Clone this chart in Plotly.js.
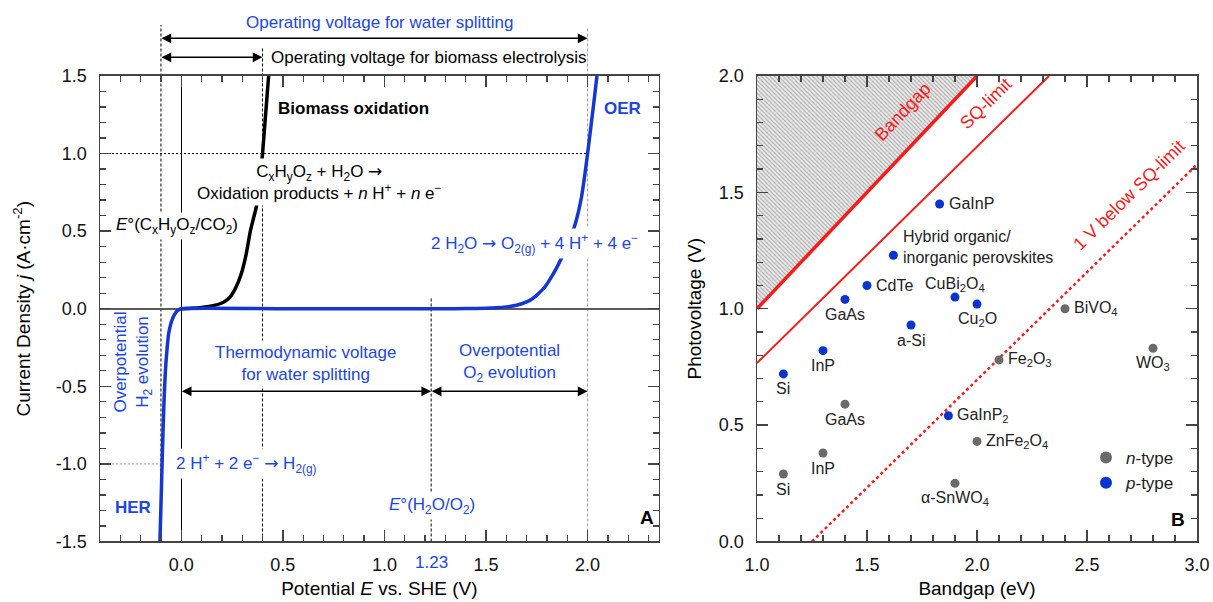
<!DOCTYPE html>
<html><head><meta charset="utf-8">
<script src="https://cdn.plot.ly/plotly-3.0.1.min.js"></script>
<style>html,body{margin:0;padding:0;background:#fff}#chart{width:1213px;height:602px}</style>
</head><body><div id="chart"></div>
<script>
// ---------- Panel A data (potential E vs SHE in V, current density j in A/cm2) ----------
const biomassE = [0.0, 0.05, 0.10, 0.15, 0.20, 0.22, 0.24, 0.26, 0.28, 0.30, 0.32, 0.34, 0.355, 0.37, 0.385, 0.40, 0.415, 0.43];
const biomassJ = [0.0, 0.003, 0.008, 0.018, 0.037, 0.052, 0.075, 0.115, 0.17, 0.245, 0.355, 0.50, 0.58, 0.66, 0.81, 1.0, 1.25, 1.5];
const waterE = [-0.105, -0.10, -0.095, -0.09, -0.085, -0.078, -0.07, -0.062, -0.05, -0.04, -0.03, -0.02, -0.01, 0.0, 0.5, 1.0, 1.3, 1.40, 1.50, 1.55, 1.60, 1.65, 1.70, 1.73, 1.76, 1.79, 1.82, 1.85, 1.88, 1.91, 1.94, 1.97, 1.985, 2.0, 2.015, 2.03, 2.046];
const waterJ = [-1.5, -1.27, -1.03, -0.8, -0.6, -0.4, -0.26, -0.16, -0.09, -0.055, -0.03, -0.015, -0.005, 0.0, 0.0, 0.0, 0.0, 0.001, 0.003, 0.006, 0.012, 0.022, 0.044, 0.066, 0.10, 0.14, 0.20, 0.27, 0.35, 0.44, 0.55, 0.72, 0.85, 1.0, 1.16, 1.32, 1.5];
const E_HER = -0.1;      // onset incl. H2 overpotential
const E_BIOMASS = 0.4;   // biomass operating potential
const E_O2 = 1.23;       // E°(H2O/O2)
const E_OER = 2.0;       // onset incl. O2 overpotential
const aXTicks = [0, 0.5, 1.0, 1.5, 2.0];
const aXTickText = ['0.0', '0.5', '1.0', '1.5', '2.0'];
const aYTicks = [-1.5, -1.0, -0.5, 0, 0.5, 1.0, 1.5];
const aYTickText = ['-1.5', '-1.0', '-0.5', '0.0', '0.5', '1.0', '1.5'];

// ---------- Panel B data (bandgap eV, photovoltage V) ----------
const pNames = ['GaInP', 'Hybrid organic/<br>inorganic perovskites', 'CdTe', 'GaAs', 'CuBi<sub>2</sub>O<sub>4</sub>', 'Cu<sub>2</sub>O', 'a-Si', 'InP', 'Si', 'GaInP<sub>2</sub>'];
const pGap   = [1.83, 1.62, 1.50, 1.40, 1.90, 2.00, 1.70, 1.30, 1.12, 1.87];
const pVolt  = [1.45, 1.23, 1.10, 1.04, 1.05, 1.02, 0.93, 0.82, 0.72, 0.54];
const nNames = ['BiVO<sub>4</sub>', 'WO<sub>3</sub>', 'Fe<sub>2</sub>O<sub>3</sub>', 'GaAs', 'ZnFe<sub>2</sub>O<sub>4</sub>', 'InP', 'Si', 'α-SnWO<sub>4</sub>'];
const nGap   = [2.40, 2.80, 2.10, 1.40, 2.00, 1.30, 1.12, 1.90];
const nVolt  = [1.00, 0.83, 0.78, 0.59, 0.43, 0.38, 0.29, 0.25];
const bandgapX = [1.0, 2.0];
const bandgapY = [1.0, 2.0];
const sqX = [1.0, 2.327];
const sqY = [0.767, 2.0];
const sqMinus1X = [1.25, 3.0];
const sqMinus1Y = [0.0, 1.62];
const hatchX = [1.0, 2.0, 1.0];
const hatchY = [1.0, 2.0, 2.0];
const bXTicks = [1.0, 1.5, 2.0, 2.5, 3.0];
const bXTickText = ['1.0', '1.5', '2.0', '2.5', '3.0'];
const bYTicks = [0, 0.5, 1.0, 1.5, 2.0];
const bYTickText = ['0.0', '0.5', '1.0', '1.5', '2.0'];

// label placement for the points (r = right, b = below, t = above, ru = right & raised)
const pLabelPos = ['r', 'ru', 'r', 'b', 't', 'b', 'b', 'b', 'b', 'r'];
const nLabelPos = ['r', 'b', 'r', 'b', 'r', 'b', 'b', 'b'];

// ---------- styles ----------
const BLUE_LINE = '#1436d2';
const BLUE_TXT = '#1d46e0';
const BLUE_PT = '#0a34d0';
const GRAY_PT = '#6a6a6a';
const RED = '#f41c1c';
const AXC = '#444';
const FONT = 'Liberation Sans, Arial, Helvetica, sans-serif';
const ARW = '<span style="font-family:DejaVu Sans">→</span>';

const traces = [
  {x: biomassE, y: biomassJ, xaxis: 'x', yaxis: 'y', mode: 'lines', line: {color: '#000', width: 3.5, shape: 'spline', smoothing: 0.6}, showlegend: false, hoverinfo: 'skip'},
  {x: waterE, y: waterJ, xaxis: 'x', yaxis: 'y', mode: 'lines', line: {color: BLUE_LINE, width: 3.5, shape: 'spline', smoothing: 0.6}, showlegend: false, hoverinfo: 'skip'},
  {x: hatchX, y: hatchY, xaxis: 'x2', yaxis: 'y2', mode: 'lines', fill: 'toself', line: {width: 0, color: 'rgba(0,0,0,0)'},
   fillcolor: '#e6e6e6', fillpattern: {shape: '\\', fgcolor: '#a8a8a8', bgcolor: '#ebebeb', size: 3, solidity: 0.35}, showlegend: false, hoverinfo: 'skip'},
  {x: bandgapX, y: bandgapY, xaxis: 'x2', yaxis: 'y2', mode: 'lines', line: {color: RED, width: 3.5}, showlegend: false, hoverinfo: 'skip'},
  {x: sqX, y: sqY, xaxis: 'x2', yaxis: 'y2', mode: 'lines', line: {color: RED, width: 2}, showlegend: false, hoverinfo: 'skip'},
  {x: sqMinus1X, y: sqMinus1Y, xaxis: 'x2', yaxis: 'y2', mode: 'lines', line: {color: RED, width: 2.5, dash: 'dot'}, showlegend: false, hoverinfo: 'skip'},
  {x: nGap, y: nVolt, xaxis: 'x2', yaxis: 'y2', mode: 'markers', name: '<i>n</i>-type', marker: {color: GRAY_PT, size: 9}, hoverinfo: 'skip'},
  {x: pGap, y: pVolt, xaxis: 'x2', yaxis: 'y2', mode: 'markers', name: '<i>p</i>-type', marker: {color: BLUE_PT, size: 9}, hoverinfo: 'skip'}
];

function axisStyle(extra) {
  return Object.assign({
    showgrid: false, showline: true, linecolor: AXC, linewidth: 1.5, mirror: 'allticks',
    ticks: 'inside', ticklen: 11, tickwidth: 1.5, tickcolor: AXC, tickmode: 'array',
    tickfont: {size: 18, color: '#111'},
    minor: {tickmode: 'linear', tick0: 0, dtick: 0.1, ticks: 'inside', ticklen: 6, tickwidth: 1.3, tickcolor: AXC, showgrid: false},
    fixedrange: true
  }, extra);
}

const yDom = [0.1005, 0.8738];
function py(px) { return 1 - px / 602; }

const shapes = [
  {type: 'line', xref: 'x', yref: 'paper', x0: E_HER, x1: E_HER, y0: yDom[0], y1: py(25), line: {color: '#000', width: 1, dash: '3px,2px'}, layer: 'below'},
  {type: 'line', xref: 'x', yref: 'paper', x0: E_BIOMASS, x1: E_BIOMASS, y0: yDom[0], y1: py(48), line: {color: '#000', width: 1, dash: '3px,2px'}, layer: 'below'},
  {type: 'line', xref: 'x', yref: 'paper', x0: E_OER, x1: E_OER, y0: yDom[0], y1: py(27), line: {color: '#9a9a9a', width: 1, dash: '3px,2px'}, layer: 'below'},
  {type: 'line', xref: 'x', yref: 'y', x0: E_O2, x1: E_O2, y0: -1.5, y1: 0.07, line: {color: '#000', width: 1, dash: '3px,2px'}, layer: 'below'},
  {type: 'line', xref: 'x', yref: 'y', x0: -0.4, x1: E_OER, y0: 1.0, y1: 1.0, line: {color: '#000', width: 1, dash: '2px,2px'}, layer: 'below'},
  {type: 'line', xref: 'x', yref: 'y', x0: -0.4, x1: E_HER, y0: -1.0, y1: -1.0, line: {color: '#999', width: 1, dash: '2px,2px'}, layer: 'below'}
];

function txtA(text, x, y, opts) {
  return Object.assign({xref: 'x', yref: 'y', x: x, y: y, text: text, showarrow: false, xanchor: 'center', yanchor: 'middle',
    font: {size: 17, color: '#000'}, bgcolor: 'rgba(0,0,0,0)', borderpad: 2}, opts || {});
}
function arrowA(xFrom, xTo, y, yref) {
  const a = {xref: 'x', x: xTo, ax: xFrom, axref: 'x', text: '', showarrow: true,
    arrowhead: 2, startarrowhead: 2, arrowside: 'end+start', arrowsize: 1.3, startarrowsize: 1.3,
    arrowwidth: 1.5, arrowcolor: '#000', standoff: 0, startstandoff: 0, borderpad: 0};
  if (yref === 'paper') { a.yref = 'paper'; a.y = y; a.ayref = 'pixel'; a.ay = 0; }
  else { a.yref = 'y'; a.y = y; a.ayref = 'y'; a.ay = y; }
  return a;
}

const annotations = [
  txtA('Operating voltage for water splitting', 0.974, py(22.7), {yref: 'paper', font: {size: 17, color: BLUE_TXT}}),
  arrowA(E_HER, E_OER, py(38.3), 'paper'),
  txtA('Operating voltage for biomass electrolysis', 0.428, py(57.3), {yref: 'paper', xanchor: 'left'}),
  arrowA(E_HER, E_BIOMASS, py(57.3), 'paper'),
  txtA('<b>Biomass oxidation</b>', 0.462, 1.292, {xanchor: 'left'}),
  txtA('<b>OER</b>', 2.068, 1.292, {xanchor: 'left', font: {size: 17, color: BLUE_TXT}}),
  txtA('C<sub>x</sub>H<sub>y</sub>O<sub>z</sub> + H<sub>2</sub>O ' + ARW + '<br>Oxidation products + <i>n</i> H<sup>+</sup> + <i>n</i> e<sup>−</sup>', 0.68, 0.815, {bgcolor: '#fff'}),
  txtA('<i>E</i>°(C<sub>x</sub>H<sub>y</sub>O<sub>z</sub>/CO<sub>2</sub>)', -0.02, 0.532, {bgcolor: '#fff'}),
  txtA('2 H<sub>2</sub>O ' + ARW + ' O<sub>2(g)</sub> + 4 H<sup>+</sup> + 4 e<sup>−</sup>', 1.741, 0.4226, {bgcolor: '#fff', font: {size: 17, color: BLUE_TXT}}),
  txtA('Thermodynamic voltage<br>for water splitting', 0.611, -0.352, {bgcolor: '#fff', font: {size: 17, color: BLUE_TXT}}),
  txtA('Overpotential<br>O<sub>2</sub> evolution', 1.617, -0.352, {bgcolor: '#fff', font: {size: 17, color: BLUE_TXT}}),
  arrowA(0, E_O2, -0.532, 'y'),
  arrowA(E_O2, E_OER, -0.532, 'y'),
  txtA('Overpotential<br>H<sub>2</sub> evolution', -0.236, -0.345, {textangle: -90, font: {size: 17, color: BLUE_TXT}}),
  txtA('<b>HER</b>', -0.236, -1.279, {font: {size: 17, color: BLUE_TXT}}),
  txtA('2 H<sup>+</sup> + 2 e<sup>−</sup> ' + ARW + ' H<sub>2(g)</sub>', 0.32, -1.0, {bgcolor: '#fff', font: {size: 17, color: BLUE_TXT}}),
  txtA('<i>E</i>°(H<sub>2</sub>O/O<sub>2</sub>)', 1.233, -1.268, {bgcolor: '#fff', font: {size: 17, color: BLUE_TXT}}),
  txtA(String(E_O2), E_O2, py(562), {yref: 'paper', font: {size: 17, color: BLUE_TXT}}),
  txtA('<b>A</b>', 2.29, -1.345, {font: {size: 19, color: '#000'}}),
  // Panel B
  {xref: 'x2', yref: 'y2', x: 1.73, y: 1.818, yshift: 6, xshift: -15, text: 'Bandgap', textangle: -46.6, showarrow: false, font: {size: 18, color: RED}},
  {xref: 'x2', yref: 'y2', x: 2.066, y: 1.854, yshift: 6, xshift: -6, text: 'SQ-limit', textangle: -44.5, showarrow: false, font: {size: 18, color: RED}},
  {xref: 'x2', yref: 'y2', x: 2.724, y: 1.454, yshift: 8, xshift: -7, text: '1 V below SQ-limit', textangle: -44.5, showarrow: false, font: {size: 18, color: RED}},
  {xref: 'x2', yref: 'y2', x: 2.915, y: 0.094, text: '<b>B</b>', showarrow: false, font: {size: 19, color: '#000'}}
];

function addPointLabels(names, xs, ys, pos) {
  for (let i = 0; i < names.length; i++) {
    const a = {xref: 'x2', yref: 'y2', x: xs[i], y: ys[i], text: names[i], showarrow: false,
      font: {size: 16, color: '#222'}, borderpad: 0};
    if (pos[i] === 'r') { a.xanchor = 'left'; a.yanchor = 'middle'; a.xshift = 8; }
    else if (pos[i] === 'ru') { a.xanchor = 'left'; a.yanchor = 'middle'; a.xshift = 9; a.yshift = 8; a.align = 'left'; }
    else if (pos[i] === 'b') { a.xanchor = 'center'; a.yanchor = 'middle'; a.yshift = -15; }
    else if (pos[i] === 't') { a.xanchor = 'center'; a.yanchor = 'middle'; a.yshift = 13; }
    annotations.push(a);
  }
}
addPointLabels(pNames, pGap, pVolt, pLabelPos);
addPointLabels(nNames, nGap, nVolt, nLabelPos);

const layout = {
  width: 1213, height: 602,
  margin: {l: 0, r: 0, t: 0, b: 0},
  paper_bgcolor: '#fff', plot_bgcolor: '#fff',
  font: {family: FONT, size: 17, color: '#000'},
  hovermode: false,
  showlegend: true,
  legend: {x: 1086 / 1213, y: py(440), xanchor: 'left', yanchor: 'top', font: {size: 17, color: '#222'},
           itemsizing: 'constant', bgcolor: 'rgba(0,0,0,0)', borderwidth: 0, tracegroupgap: 0},
  xaxis: axisStyle({domain: [100 / 1213, 658.7 / 1213], range: [-0.4, 2.35], anchor: 'y',
    tickvals: aXTicks, ticktext: aXTickText,
    zeroline: true, zerolinecolor: '#000', zerolinewidth: 1,
    ticklabelstandoff: 6,
    title: {text: 'Potential <i>E</i> vs. SHE (V)', font: {size: 19}, standoff: 8}}),
  yaxis: axisStyle({domain: yDom, range: [-1.5, 1.5], anchor: 'x',
    tickvals: aYTicks, ticktext: aYTickText,
    zeroline: true, zerolinecolor: '#5a5a5a', zerolinewidth: 1.8,
    ticklabelstandoff: 8,
    title: {text: 'Current Density <i>j</i> (A·cm<sup>-2</sup>)', font: {size: 19}, standoff: 20}}),
  xaxis2: axisStyle({domain: [757 / 1213, 1197 / 1213], range: [1, 3], anchor: 'y2',
    tickvals: bXTicks, ticktext: bXTickText, zeroline: false,
    ticklabelstandoff: 6,
    title: {text: 'Bandgap (eV)', font: {size: 19}, standoff: 8}}),
  yaxis2: axisStyle({domain: yDom, range: [0, 2], anchor: 'x2',
    tickvals: bYTicks, ticktext: bYTickText, zeroline: false,
    ticklabelstandoff: 8,
    title: {text: 'Photovoltage (V)', font: {size: 19}, standoff: 12}}),
  shapes: shapes,
  annotations: annotations
};

Plotly.newPlot('chart', traces, layout, {staticPlot: true, displayModeBar: false});
</script>
</body></html>
